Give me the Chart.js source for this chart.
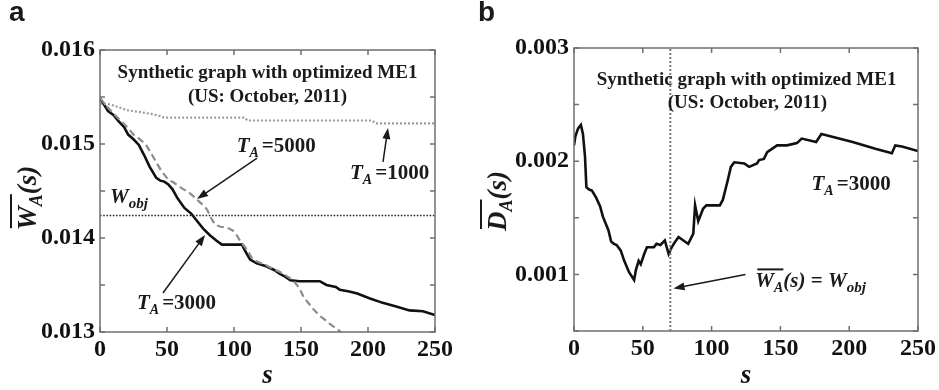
<!DOCTYPE html>
<html>
<head>
<meta charset="utf-8">
<script src="https://cdn.jsdelivr.net/npm/chart.js@4.4.1/dist/chart.umd.min.js"></script>
<style>
    html, body { margin: 0; padding: 0; background: #fff; }
    #wrap { position: relative; width: 939px; height: 390px; overflow: hidden; }
    .panel { position: absolute; top: 0; height: 390px; }
    #panel-a { left: 0; width: 470px; }
    #panel-b { left: 470px; width: 469px; }
    .tag { position: absolute; top: -4px; font: bold 28px "Liberation Sans", Arial, sans-serif; color: #1a1a1a; }
</style>
</head>
<body>
<div id="wrap">
    <div class="panel" id="panel-a">
        <canvas id="chart-a" width="470" height="390"></canvas>
        <div class="tag" style="left: 9px;">a</div>
    </div>
    <div class="panel" id="panel-b">
        <canvas id="chart-b" width="469" height="390"></canvas>
        <div class="tag" style="left: 8px;">b</div>
    </div>
</div>
<script>
// Panel a: mean weight W_A(s) for three values of T_A
const sTa1000 = [0, 8, 14, 20, 30, 38, 44, 48, 108, 110, 203, 206, 250];
const wTa1000 = [0.01543, 0.01542, 0.01539, 0.01536, 0.01534, 0.01532, 0.01530, 0.01528, 0.01528, 0.01525, 0.01525, 0.01522, 0.01522];

const sTa3000 = [0, 3, 6, 10, 14, 18, 21, 25, 29, 33, 37, 42, 45, 48, 51, 54, 58, 63, 68, 73, 77, 82, 87, 91, 100, 106, 108, 112, 117, 124, 130, 134, 138, 142, 149, 164, 169, 176, 179, 186, 192, 201, 211, 221, 231, 241, 250];
const wTa3000 = [0.01548, 0.01542, 0.01535, 0.01531, 0.01524, 0.01518, 0.01510, 0.01505, 0.01499, 0.01488, 0.01476, 0.01464, 0.01461, 0.01460, 0.01457, 0.01452, 0.01442, 0.01432, 0.01426, 0.01417, 0.01410, 0.01403, 0.01397, 0.01393, 0.01393, 0.01393, 0.01387, 0.01377, 0.01373, 0.01370, 0.01366, 0.01362, 0.01359, 0.01355, 0.01354, 0.01354, 0.01350, 0.01348, 0.01345, 0.01343, 0.01341, 0.01336, 0.01331, 0.01327, 0.01323, 0.01322, 0.01318];

const sTa5000 = [0, 5, 11, 16, 21, 25, 29, 34, 39, 43, 46, 51, 55, 58, 62, 66, 70, 73, 77, 80, 83, 86, 90, 95, 99, 102, 105, 110, 114, 119, 124, 129, 134, 139, 144, 147, 150, 152, 156, 160, 164, 167, 172, 178, 185];
const wTa5000 = [0.01549, 0.01540, 0.01531, 0.01524, 0.01517, 0.01510, 0.01506, 0.01500, 0.01488, 0.01478, 0.01471, 0.01462, 0.01459, 0.01456, 0.01452, 0.01449, 0.01444, 0.01440, 0.01435, 0.01430, 0.01421, 0.01414, 0.01412, 0.01411, 0.01408, 0.01403, 0.01396, 0.01387, 0.01377, 0.01374, 0.01371, 0.01367, 0.01364, 0.01360, 0.01355, 0.01350, 0.01343, 0.01337, 0.01330, 0.01323, 0.01317, 0.01314, 0.01308, 0.01302, 0.01293];

const wObj = 0.01424;

// Panel b: mean D_A(s) for T_A = 3000
const sDa = [0, 1, 3, 5, 6.5, 8, 9, 11, 13, 16, 19, 21, 23, 25, 27, 29, 31, 34, 36.5, 40, 43.7, 45, 47, 48.5, 51, 53, 56, 58, 60, 62.8, 66, 68.8, 71, 73, 76, 79.5, 83, 86.7, 88, 90.3, 93.8, 96.2, 106, 108.2, 111.7, 114, 116.5, 123.7, 127.3, 133, 134.5, 138, 140.4, 147.6, 154.7, 162, 165.5, 176, 179.8, 183.4, 202.5, 219, 231, 233.5, 238.3, 250];
const dA = [0.00214, 0.00222, 0.00229, 0.00232, 0.00224, 0.00204, 0.00177, 0.00175, 0.00174, 0.00168, 0.00160, 0.00151, 0.00145, 0.00139, 0.00129, 0.00127, 0.00126, 0.00121, 0.00112, 0.00102, 0.00095, 0.00104, 0.00112, 0.00109, 0.00118, 0.00124, 0.00124, 0.00124, 0.00127, 0.00126, 0.00130, 0.00118, 0.00124, 0.00128, 0.00133, 0.00130, 0.00127, 0.00136, 0.00161, 0.00147, 0.00158, 0.00161, 0.00161, 0.00166, 0.00183, 0.00195, 0.00199, 0.00198, 0.00195, 0.00198, 0.00201, 0.00202, 0.00208, 0.00214, 0.00214, 0.00216, 0.00220, 0.00217, 0.00224, 0.00223, 0.00217, 0.00211, 0.00207, 0.00214, 0.00213, 0.00209];

const sObj = 70;

const xTicks = [0, 50, 100, 150, 200, 250];

const toPoints = (xs, ys) => xs.map((s, i) => ({ x: s, y: ys[i] }));

const serif = (size, italic) => `${italic ? 'italic ' : ''}bold ${size}px "Liberation Serif", "DejaVu Serif", serif`;

// draws a row of text pieces from x along a common baseline, returns end x
const drawRuns = (ctx, x, y, runs) => {
    let cx = x;
    ctx.textAlign = 'left';
    ctx.textBaseline = 'alphabetic';
    runs.forEach(r => {
        ctx.font = serif(r.size, r.italic);
        ctx.fillText(r.text, cx, y + (r.dy || 0));
        cx += ctx.measureText(r.text).width + (r.gap || 0);
    });
    return cx;
};

const runsWidth = (ctx, runs) => runs.reduce((w, r) => {
    ctx.font = serif(r.size, r.italic);
    return w + ctx.measureText(r.text).width + (r.gap || 0);
}, 0);

const drawArrow = (ctx, x1, y1, x2, y2) => {
    const ang = Math.atan2(y2 - y1, x2 - x1);
    const len = 11, half = 4;
    ctx.beginPath();
    ctx.moveTo(x1, y1);
    ctx.lineTo(x2 - Math.cos(ang) * len * 0.8, y2 - Math.sin(ang) * len * 0.8);
    ctx.stroke();
    ctx.beginPath();
    ctx.moveTo(x2, y2);
    ctx.lineTo(x2 - Math.cos(ang) * len - Math.sin(ang) * half, y2 - Math.sin(ang) * len + Math.cos(ang) * half);
    ctx.lineTo(x2 - Math.cos(ang) * len + Math.sin(ang) * half, y2 - Math.sin(ang) * len - Math.cos(ang) * half);
    ctx.closePath();
    ctx.fill();
};

// rotated y title with an overline across the first two pieces
const drawYTitle = (ctx, bx, cy, runs) => {
    ctx.save();
    ctx.translate(bx, cy);
    ctx.rotate(-Math.PI / 2);
    const total = runsWidth(ctx, runs);
    const start = -total / 2;
    drawRuns(ctx, start, 0, runs);
    const barEnd = start + runsWidth(ctx, runs.slice(0, 2));
    ctx.lineWidth = 2;
    ctx.beginPath();
    ctx.moveTo(start + 2, -25);
    ctx.lineTo(barEnd, -25);
    ctx.stroke();
    ctx.restore();
};

const taLabel = (value) => [
    { text: 'T', size: 21, italic: true },
    { text: 'A', size: 14, italic: true, dy: 5, gap: 3 },
    { text: '=' + value, size: 21 }
];

// box frame plus inward tick marks on all four sides
const frameTicks = {
    id: 'frameTicks',
    afterDraw(chart) {
        const { ctx, chartArea: { left, right, top, bottom }, scales: { x, y } } = chart;
        ctx.save();
        ctx.strokeStyle = '#6f6f6f';
        ctx.lineWidth = 1.5;
        ctx.strokeRect(left, top, right - left, bottom - top);
        ctx.beginPath();
        x.ticks.forEach(t => {
            const px = x.getPixelForValue(t.value);
            ctx.moveTo(px, bottom); ctx.lineTo(px, bottom - 5);
            ctx.moveTo(px, top); ctx.lineTo(px, top + 5);
        });
        y.ticks.forEach(t => {
            const py = y.getPixelForValue(t.value);
            ctx.moveTo(left, py); ctx.lineTo(left + 5, py);
            ctx.moveTo(right, py); ctx.lineTo(right - 5, py);
        });
        ctx.stroke();
        ctx.restore();
    }
};

const notesA = {
    id: 'notesA',
    afterDraw(chart) {
        const { ctx, scales: { x, y } } = chart;
        const px = s => x.getPixelForValue(s);
        const py = v => y.getPixelForValue(v);
        ctx.save();
        ctx.fillStyle = '#1a1a1a';
        ctx.strokeStyle = '#1a1a1a';
        ctx.textAlign = 'center';
        ctx.textBaseline = 'middle';
        ctx.font = serif(19, false);
        ctx.fillText('Synthetic graph with optimized ME1', px(125), py(0.015755));
        ctx.fillText('(US: October, 2011)', px(125), py(0.0155));

        drawRuns(ctx, px(102), py(0.01499) + 7, taLabel(5000));
        drawRuns(ctx, px(186.6), py(0.014702) + 7, taLabel(1000));
        drawRuns(ctx, px(27.6), py(0.013319) + 7, taLabel(3000));
        drawRuns(ctx, px(7.5), py(0.014436) + 6, [
            { text: 'W', size: 21, italic: true },
            { text: 'obj', size: 15, italic: true, dy: 5 }
        ]);

        ctx.lineWidth = 1.5;
        drawArrow(ctx, px(117.2), py(0.014851), px(72.4), py(0.014415));
        drawArrow(ctx, px(211.2), py(0.014809), px(214.9), py(0.01517));
        drawArrow(ctx, px(47), py(0.013415), px(78.4), py(0.014032));

        // y axis title and x axis title
        drawYTitle(ctx, 36, 198, [
            { text: 'W', size: 27, italic: true },
            { text: 'A', size: 18, italic: true, dy: 6 },
            { text: '(s)', size: 27, italic: true }
        ]);
        ctx.restore();
    }
};

const notesB = {
    id: 'notesB',
    afterDraw(chart) {
        const { ctx, scales: { x, y } } = chart;
        const px = s => x.getPixelForValue(s);
        const py = v => y.getPixelForValue(v);
        ctx.save();
        ctx.fillStyle = '#1a1a1a';
        ctx.strokeStyle = '#1a1a1a';
        ctx.textAlign = 'center';
        ctx.textBaseline = 'middle';
        ctx.font = serif(19, false);
        ctx.fillText('Synthetic graph with optimized ME1', px(125.4), py(0.002717));
        ctx.fillText('(US: October, 2011)', px(126), py(0.002513));

        drawRuns(ctx, px(172.6), py(0.001805) + 7, taLabel(3000));

        const lx = px(131.8), ly = py(0.000947) + 7;
        const head = [
            { text: 'W', size: 21, italic: true },
            { text: 'A', size: 14, italic: true, dy: 5 }
        ];
        const barEnd = lx + runsWidth(ctx, head);
        drawRuns(ctx, lx, ly, head.concat([
            { text: '(s)', size: 21, italic: true },
            { text: ' = ', size: 21 },
            { text: 'W', size: 21, italic: true },
            { text: 'obj', size: 15, italic: true, dy: 5 }
        ]));
        ctx.lineWidth = 2;
        ctx.beginPath();
        ctx.moveTo(lx + 2, ly - 18);
        ctx.lineTo(barEnd, ly - 18);
        ctx.stroke();

        ctx.lineWidth = 1.5;
        drawArrow(ctx, px(124.6), py(0.001), px(72.3), py(0.000876));

        drawYTitle(ctx, 36, 201, [
            { text: 'D', size: 27, italic: true },
            { text: 'A', size: 18, italic: true, dy: 6 },
            { text: '(s)', size: 27, italic: true }
        ]);
        ctx.restore();
    }
};

const tickFont = { family: '"Liberation Serif", "DejaVu Serif", serif', weight: 'bold', size: 24 };

const xScale = (axisHeight) => ({
    type: 'linear',
    min: 0,
    max: 250,
    afterBuildTicks: scale => { scale.ticks = xTicks.map(v => ({ value: v })); },
    afterFit: scale => { scale.height = axisHeight; },
    grid: { display: false, drawTicks: false },
    border: { display: false },
    ticks: { font: tickFont, color: '#111', padding: 3, maxRotation: 0, autoSkip: false },
    title: {
        display: true,
        text: 's',
        color: '#111',
        font: { family: '"Liberation Serif", serif', weight: 'bold', style: 'italic', size: 27, lineHeight: 1 },
        padding: { top: 0, bottom: 0 }
    }
});

const yScale = (min, max, axisWidth) => ({
    type: 'linear',
    min: min,
    max: max,
    afterFit: scale => { scale.width = axisWidth; },
    grid: { display: false, drawTicks: false },
    border: { display: false },
    ticks: {
        stepSize: 0.0005,
        autoSkip: false,
        font: tickFont,
        color: '#111',
        padding: 5,
        callback: v => Math.abs(v * 1000 - Math.round(v * 1000)) < 1e-6 ? v.toFixed(3) : ''
    }
});

const baseOptions = {
    responsive: false,
    animation: false,
    devicePixelRatio: 1,
    events: [],
    plugins: { legend: { display: false }, tooltip: { enabled: false } },
    elements: { point: { radius: 0 }, line: { tension: 0, borderCapStyle: 'butt' } }
};

new Chart(document.getElementById('chart-a'), {
    type: 'line',
    data: {
        datasets: [
            {
                label: 'W_obj',
                data: toPoints([0, 250], [wObj, wObj]),
                borderColor: '#2a2a2a',
                borderWidth: 1.6,
                borderDash: [1.6, 1.6]
            },
            {
                label: 'T_A=1000',
                data: toPoints(sTa1000, wTa1000),
                borderColor: '#9a9a9a',
                borderWidth: 2.2,
                borderDash: [2, 2]
            },
            {
                label: 'T_A=5000',
                data: toPoints(sTa5000, wTa5000),
                borderColor: '#8c8c8c',
                borderWidth: 2.2,
                borderDash: [7, 4]
            },
            {
                label: 'T_A=3000',
                data: toPoints(sTa3000, wTa3000),
                borderColor: '#111',
                borderWidth: 2.6
            }
        ]
    },
    options: {
        ...baseOptions,
        layout: { padding: { left: 0, right: 35, top: 50, bottom: 0 } },
        scales: { x: xScale(58), y: yScale(0.013, 0.016, 100) }
    },
    plugins: [frameTicks, notesA]
});

new Chart(document.getElementById('chart-b'), {
    type: 'line',
    data: {
        datasets: [
            {
                label: 'W_A(s)=W_obj',
                data: toPoints([sObj, sObj], [0.0005, 0.003]),
                borderColor: '#7a7a7a',
                borderWidth: 2,
                borderDash: [2, 2]
            },
            {
                label: 'T_A=3000',
                data: toPoints(sDa, dA),
                borderColor: '#111',
                borderWidth: 2.6
            }
        ]
    },
    options: {
        ...baseOptions,
        layout: { padding: { left: 0, right: 16, top: 48, bottom: 0 } },
        scales: { x: xScale(59), y: yScale(0.0005, 0.003, 104) }
    },
    plugins: [frameTicks, notesB]
});
</script>
</body>
</html>
